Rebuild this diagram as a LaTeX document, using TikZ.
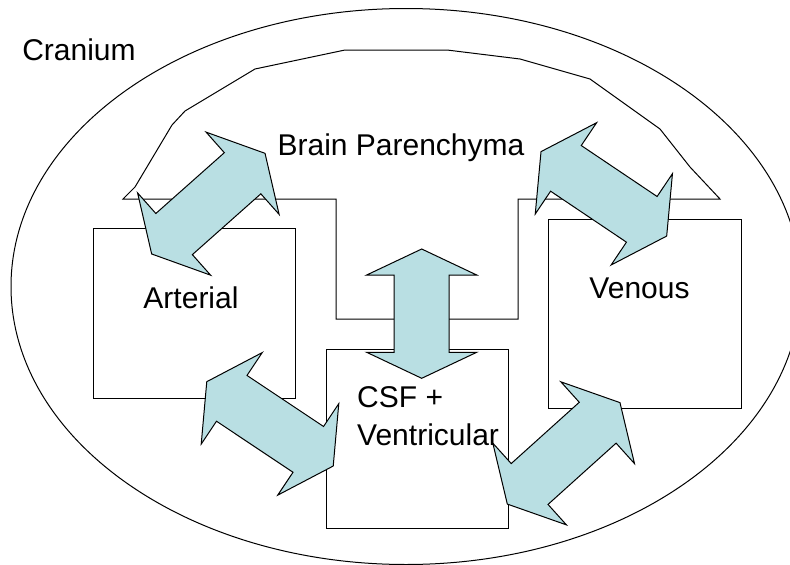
\documentclass[tikz,border=0pt]{standalone}
\usepackage{fontspec}
\setmainfont{Liberation Sans}
\usepackage{tikz}
\definecolor{flowblue}{RGB}{185,223,227}
\tikzset{
    comp/.style={draw, rectangle, line width=1pt, inner sep=0pt},
    lbl/.style={font=\fontsize{30}{38.4}\selectfont, inner sep=0pt},
    flow/.style={draw, fill=flowblue, line width=1pt, line join=miter}
}
% double headed block arrow: centre, angle, half length, head length
\newcommand{\twoway}[4]{%
    \draw[flow, shift={(#1)}, rotate=#2]
        (#3,0) -- (#3-#4,55) -- (#3-#4,27.5) -- (-#3+#4,27.5) -- (-#3+#4,55) -- (-#3,0)
        -- (-#3+#4,-55) -- (-#3+#4,-27.5) -- (#3-#4,-27.5) -- (#3-#4,-55) -- cycle;}

\begin{document}
\begin{tikzpicture}[x=1pt, y=-1pt]
        \useasboundingbox (0,0) rectangle (790,565);
        \clip (0,0) rectangle (790,565);

        % --- Cranium ---
        \draw [line width=1pt] (406,286.5) ellipse [x radius=395, y radius=278];

        % --- Brain Parenchyma outline ---
        \draw [line width=1pt, line join=miter] (123,199) -- (135,187) -- (172,125) -- (185,111)
            -- (255,69) -- (345,50) -- (447,50) -- (520,59) -- (590,79) -- (660,129)
            -- (690,167) -- (720,199) -- (518,199) -- (518,319) -- (336,319) -- (336,199) -- cycle;

        % --- Compartments ---
        \node [comp, minimum width=202pt, minimum height=170pt] (arterial) at (194,313) {};
        \node [comp, minimum width=193pt, minimum height=189pt] (venous) at (644.5,313.5) {};
        \node [comp, minimum width=182pt, minimum height=179pt] (csf) at (417,438.5) {};

        % --- Exchange arrows ---
        \coordinate (art-brain) at (208.35,203.65);
        \coordinate (brain-ven) at (603.85,193.85);
        \coordinate (brain-csf) at (421.7,313.65);
        \coordinate (art-csf)   at (270,423.85);
        \coordinate (csf-ven)   at (563.65,453.35);

        \twoway{art-brain}{41.6}{75.8}{30}
        \twoway{brain-ven}{-33.9}{75.7}{30}
        \twoway{brain-csf}{90}{64.65}{26}
        \twoway{art-csf}{-33.7}{76}{30}
        \twoway{csf-ven}{42}{75.8}{30}

        % --- Labels ---
        \node [lbl, anchor=base] (cranium-text) at (79,60) {Cranium};
        \node [lbl, anchor=base] (brain-text) at (401,155) {Brain Parenchyma};
        \node [lbl, anchor=base] (arterial-text) at (191,308) {Arterial};
        \node [lbl, anchor=base] (venous-text) at (639.5,298) {Venous};
        \node [lbl, anchor=north west, align=left] (csf-text) at (357,386) {CSF +\\Ventricular};

    \end{tikzpicture}
\end{document}
